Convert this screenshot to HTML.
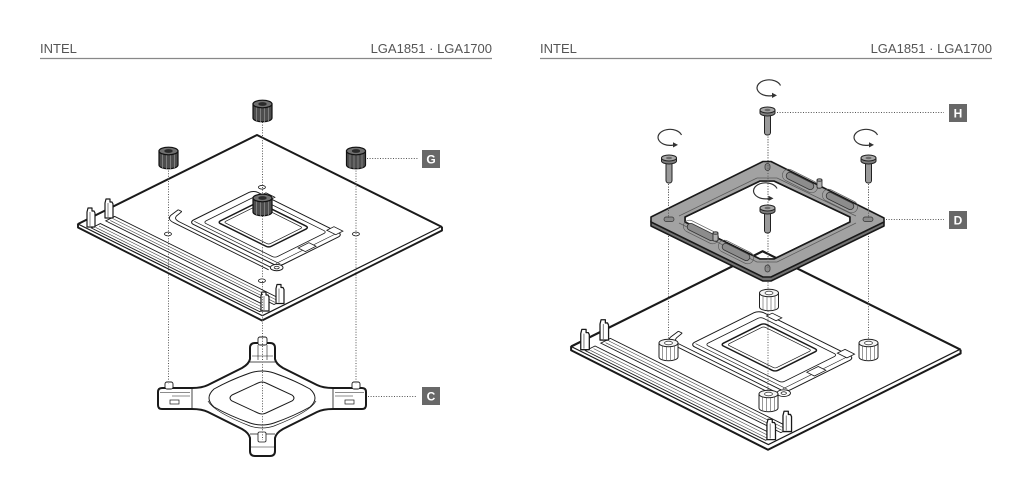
<!DOCTYPE html>
<html><head><meta charset="utf-8">
<style>
html,body{margin:0;padding:0;background:#fff;}
body{width:1024px;height:482px;overflow:hidden;}
svg{display:block;}
.st *{vector-effect:non-scaling-stroke;}
</style></head><body>
<svg width="1024" height="482" viewBox="0 0 1024 482" xmlns="http://www.w3.org/2000/svg">
<defs>
 <g id="clip">
  <path d="M-4,0 L-4,-15 L-3,-19 L1,-19 L1,-16 L3,-16 L4,-14 L4,0 Z" fill="#fff" stroke="#1a1a1a" stroke-width="1.2" stroke-linejoin="round"/>
  <path d="M-1,-15 L-1,-1" stroke="#333" stroke-width="0.6"/>
 </g>
 <g id="board">
  <path d="M78,224 L78,227.5 L262,320.5 L442,230.5 L442,227" fill="#fff" stroke="#1a1a1a" stroke-width="1.9" stroke-linejoin="round"/>
  <g class="st" transform="matrix(0.895,0.445,0.895,-0.445,78,224)" fill="none" stroke="#1a1a1a">
   <rect x="0" y="0" width="206" height="200" fill="#fff" stroke-width="1.2"/>
   <!-- RAM -->
   <rect x="12" y="3" width="188" height="10" fill="#fff" stroke-width="0.9"/>
   <line x1="14" y1="6" x2="198" y2="6" stroke-width="0.6" stroke="#444"/>
   <line x1="14" y1="9.5" x2="198" y2="9.5" stroke-width="0.6" stroke="#444"/>
   <rect x="12" y="19" width="188" height="10" fill="#fff" stroke-width="0.9"/>
   <line x1="14" y1="22" x2="198" y2="22" stroke-width="0.6" stroke="#444"/>
   <line x1="14" y1="25.5" x2="198" y2="25.5" stroke-width="0.6" stroke="#444"/>
   <!-- socket -->
   <rect x="60" y="64" width="100" height="72" rx="5" fill="#fff" stroke-width="1"/>
   <rect x="68" y="72" width="80" height="58" rx="3" stroke-width="0.8"/>
   <line x1="62" y1="68" x2="158" y2="68" stroke-width="0.6"/>
   <line x1="155" y1="66" x2="155" y2="134" stroke-width="0.6"/>
   <rect x="76" y="80" width="57" height="45" rx="3" stroke-width="1.5"/>
   <rect x="79.5" y="83.5" width="50" height="38" rx="2" stroke-width="0.7"/>
   <path d="M158,55 L52,55 Q44,55 42,62 L40,72 M158,59 L54,59 Q48,59 46,64 L44,72 M40,72 L44,72" stroke-width="0.9"/>
   <circle cx="160" cy="62" r="5" fill="#fff" stroke-width="0.9"/>
   <circle cx="160" cy="62" r="2" stroke-width="0.7"/>
   <rect x="146" y="132" width="10" height="8" fill="#fff" stroke-width="0.8"/>
   <rect x="70" y="134" width="10" height="6" fill="#fff" stroke-width="0.8"/>
   <rect x="150" y="96" width="8" height="12" fill="#fff" stroke-width="0.8"/>
   <!-- holes -->
   <circle cx="61.5" cy="144" r="2.8" fill="#fff" stroke-width="0.8"/>
   <circle cx="61.5" cy="39" r="2.8" fill="#fff" stroke-width="0.8"/>
   <circle cx="166.5" cy="144" r="2.8" fill="#fff" stroke-width="0.8"/>
   <circle cx="166.5" cy="39" r="2.8" fill="#fff" stroke-width="0.8"/>
  </g>
  <path d="M78,224 L257,135 L442,227" fill="none" stroke="#1a1a1a" stroke-width="2" stroke-linejoin="round"/>
  <use href="#clip" transform="translate(91,227)"/>
  <use href="#clip" transform="translate(109,218)"/>
  <use href="#clip" transform="translate(265,311)"/>
  <use href="#clip" transform="translate(280,303.5)"/>
 </g>
 <g id="sd">
  <path d="M-9.5,4 L-9.5,18 A9.5,3.8 0 0,0 9.5,18 L9.5,4 Z" fill="#4d4d4d" stroke="#111" stroke-width="1.2"/>
  <path d="M-6,7 L-6,21 M-2,8 L-2,22 M2,8 L2,22 M6,7 L6,21" stroke="#8a8a8a" stroke-width="0.8"/>
  <ellipse cx="0" cy="4" rx="9.5" ry="3.8" fill="#707070" stroke="#111" stroke-width="1.2"/>
  <ellipse cx="0" cy="4" rx="4.2" ry="1.9" fill="#2a2a2a"/>
 </g>
 <g id="sw">
  <path d="M-9.5,4 L-9.5,18 A9.5,3.8 0 0,0 9.5,18 L9.5,4 Z" fill="#fff" stroke="#222" stroke-width="1"/>
  <path d="M-6,7 L-6,21 M-2,8 L-2,22 M2,8 L2,22 M6,7 L6,21" stroke="#555" stroke-width="0.6"/>
  <ellipse cx="0" cy="4" rx="9.5" ry="3.8" fill="#f4f4f4" stroke="#222" stroke-width="1"/>
  <ellipse cx="0" cy="4" rx="4" ry="1.8" fill="#fff" stroke="#444" stroke-width="0.8"/>
 </g>
 <g id="screw">
  <rect x="-3" y="7" width="6" height="21" rx="2.5" fill="#9a9a9a" stroke="#222" stroke-width="1"/>
  <path d="M-7.5,3 L-7.5,6 A7.5,3 0 0,0 7.5,6 L7.5,3 Z" fill="#7d7d7d" stroke="#222" stroke-width="1"/>
  <ellipse cx="0" cy="3" rx="7.5" ry="3" fill="#a8a8a8" stroke="#222" stroke-width="1"/>
  <ellipse cx="0" cy="3" rx="3" ry="1.3" fill="#6a6a6a"/>
 </g>
 <g id="rot">
  <path d="M11.5,-2.5 A12,8 0 1,0 3,7.6" fill="none" stroke="#333" stroke-width="1.2"/>
  <polygon points="8,7.4 3,4.8 3,10" fill="#333"/>
 </g>
</defs>

<!-- headers -->
<g font-family="Liberation Sans, sans-serif" font-size="13" fill="#555">
 <text x="40" y="53">INTEL</text>
 <text x="492" y="53" text-anchor="end">LGA1851 · LGA1700</text>
 <text x="540" y="53">INTEL</text>
 <text x="992" y="53" text-anchor="end">LGA1851 · LGA1700</text>
</g>
<line x1="40" y1="58.5" x2="492" y2="58.5" stroke="#888" stroke-width="1.3"/>
<line x1="540" y1="58.5" x2="992" y2="58.5" stroke="#888" stroke-width="1.3"/>

<!-- LEFT PANEL -->
<use href="#board"/>

<!-- C bracket -->
<g stroke="#1a1a1a" fill="none">
 <path d="M250,348 Q250,343 255,343 L270,343 Q275,343 275,348 L275,359 Q276,364 283,368 L317,385 Q323,388 333,388 L362,388 Q366,388 366,392 L366,405 Q366,409 362,409 L333,409 Q323,409 317,412 L283,429 Q276,433 275,438 L275,451 Q275,456 270,456 L255,456 Q250,456 250,451 L250,438 Q249,433 242,429 L208,412 Q202,409 192,409 L162,409 Q158,409 158,405 L158,392 Q158,388 162,388 L192,388 Q202,388 208,385 L242,368 Q249,364 250,359 Z" fill="#fff" stroke-width="2"/>
 <path d="M250,362 L275,362 M192,389 L192,408 M333,389 L333,408 M250,434 L275,434" stroke-width="0.8"/>
 <path d="M214,389 Q230,380 250,373 Q262,369 274,373 Q294,380 310,389 Q320,398 310,407 Q294,416 274,423 Q262,427 250,423 Q230,416 214,407 Q204,398 214,389 Z" stroke-width="1"/>
 <path d="M208,401 Q214,412 250,426 Q262,430 274,426 Q310,412 316,401" stroke-width="0.7"/>
 <path d="M232,395 L258,383 Q262,381 266,383 L292,395 Q296,398 292,401 L266,413 Q262,415 258,413 L232,401 Q228,398 232,395 Z" stroke-width="1"/>
 <rect x="258" y="337" width="9" height="8" rx="2" fill="#fff" stroke-width="0.9"/>
 <path d="M258,345 L258,360 M267,345 L267,360 M252,356 L273,356" stroke-width="0.6"/>
 <rect x="165" y="382" width="8" height="7" rx="2" fill="#fff" stroke-width="0.9"/>
 <path d="M160,392.5 L190,392.5 M172,396 L190,396" stroke-width="0.6"/>
 <rect x="170" y="400" width="9" height="4" stroke-width="0.7"/>
 <rect x="352" y="382" width="8" height="7" rx="2" fill="#fff" stroke-width="0.9"/>
 <path d="M335,392.5 L364,392.5 M335,396 L353,396" stroke-width="0.6"/>
 <rect x="345" y="400" width="9" height="4" stroke-width="0.7"/>
 <rect x="258" y="432" width="8" height="10" rx="1.5" fill="#fff" stroke-width="0.8"/>
 <path d="M250,447 L275,447" stroke-width="0.6"/>
</g>

<!-- left dotted -->
<g stroke="#555" stroke-width="1" stroke-dasharray="1 1.6" fill="none">
 <path d="M168.5,168 L168.5,384"/>
 <path d="M356,168 L356,384"/>
 <path d="M262.5,122 L262.5,196 M262.5,216 L262.5,440"/>
 <path d="M367,158.5 L418,158.5"/>
 <path d="M368,396.5 L417,396.5"/>
</g>

<use href="#sd" transform="translate(262.5,100)"/>
<use href="#sd" transform="translate(168.5,147)"/>
<use href="#sd" transform="translate(356,147)"/>
<use href="#sd" transform="translate(262.5,194)"/>

<!-- RIGHT PANEL -->
<use href="#board" transform="matrix(1.07,0,0,1.07,487.66,106.81)"/>

<g stroke="#555" stroke-width="1" stroke-dasharray="1 1.6" fill="none">
 <path d="M668.5,184 L668.5,340"/>
 <path d="M868.5,184 L868.5,340"/>
 <path d="M768,134 L768,392"/>
</g>

<use href="#sw" transform="translate(769,289)"/>
<use href="#sw" transform="translate(668.5,339)"/>
<use href="#sw" transform="translate(868.5,339)"/>
<use href="#sw" transform="translate(768.5,390)"/>

<!-- plate D -->
<g stroke="#1a1a1a" stroke-linejoin="round">
 <path fill-rule="evenodd" fill="#727272" stroke-width="1.6" d="M763,165.5 L771,165.5 L880,220 L884,222 L884,226 L771,281 L763,281 L651,226 L651,221 L655,219 Z M760,181 L774,181 L850,217 L850,222 L774,259 L760,259 L685,222 L685,217 Z"/>
 <path fill-rule="evenodd" fill="#a2a2a2" stroke-width="1.6" d="M763,161.5 L771,161.5 L880,216 L884,218 L884,222 L771,277 L763,277 L651,222 L651,217 L655,215 Z M760,181 L774,181 L850,217 L850,222 L774,259 L760,259 L685,222 L685,217 Z"/>
 <path fill="none" stroke="#5a5a5a" stroke-width="0.7" d="M757,178 L777,178 L856,216 M679,216 L757,178 M679,223 L757,262 L777,262 L856,223"/>
 <g fill="#8c8c8c" stroke="#333" stroke-width="0.8">
  <rect x="785" y="177.5" width="30" height="7" rx="3.5" transform="rotate(26.57 800 181)"/>
  <rect x="825" y="197.5" width="30" height="7" rx="3.5" transform="rotate(26.57 840 201)"/>
  <rect x="686" y="228.5" width="30" height="7" rx="3.5" transform="rotate(26.57 701 232)"/>
  <rect x="721" y="248.5" width="30" height="7" rx="3.5" transform="rotate(26.57 736 252)"/>
 </g>
 <g fill="none" stroke="#555" stroke-width="0.6">
  <rect x="781" y="175" width="38" height="12" rx="6" transform="rotate(26.57 800 181)"/>
  <rect x="821" y="195" width="38" height="12" rx="6" transform="rotate(26.57 840 201)"/>
  <rect x="682" y="226" width="38" height="12" rx="6" transform="rotate(26.57 701 232)"/>
  <rect x="717" y="246" width="38" height="12" rx="6" transform="rotate(26.57 736 252)"/>
 </g>
 <g fill="#b0b0b0" stroke="#222" stroke-width="0.8">
  <path d="M817,180 L817,187 A2.5,1.2 0 0,0 822,187 L822,180 Z"/>
  <ellipse cx="819.5" cy="180" rx="2.5" ry="1.2"/>
  <path d="M713,233 L713,240 A2.5,1.2 0 0,0 718,240 L718,233 Z"/>
  <ellipse cx="715.5" cy="233" rx="2.5" ry="1.2"/>
 </g>
 <g fill="#8a8a8a" stroke="#333" stroke-width="0.7">
  <rect x="765" y="163.5" width="5" height="7" rx="2.5"/>
  <rect x="765" y="265" width="5" height="7" rx="2.5"/>
  <rect x="664" y="217" width="10" height="4.5" rx="2.2"/>
  <rect x="863" y="217" width="10" height="4.5" rx="2.2"/>
 </g>
</g>

<g stroke="#555" stroke-width="1" stroke-dasharray="1 1.6" fill="none">
 <path d="M668.5,184 L668.5,218"/>
 <path d="M868.5,184 L868.5,218"/>
 <path d="M768,134 L768,268"/>
 <path d="M777,112.5 L944,112.5"/>
 <path d="M886,219.5 L944,219.5"/>
</g>

<use href="#screw" transform="translate(767.5,107)"/>
<use href="#screw" transform="translate(669,155)"/>
<use href="#screw" transform="translate(868.5,155)"/>
<use href="#screw" transform="translate(767.5,205)"/>

<use href="#rot" transform="translate(769,88)"/>
<use href="#rot" transform="translate(670,137.5)"/>
<use href="#rot" transform="translate(866,137.5)"/>
<use href="#rot" transform="translate(765.5,191)"/>

<!-- labels -->
<g fill="#686868">
 <rect x="422" y="150" width="18" height="18"/>
 <rect x="422" y="387" width="18" height="18"/>
 <rect x="949" y="104" width="18" height="18"/>
 <rect x="949" y="211" width="18" height="18"/>
</g>
<g font-family="Liberation Sans, sans-serif" font-size="12" font-weight="bold" fill="#fff" text-anchor="middle">
 <text x="431" y="163.5">G</text>
 <text x="431" y="400.5">C</text>
 <text x="958" y="117.5">H</text>
 <text x="958" y="224.5">D</text>
</g>
</svg>
</body></html>
